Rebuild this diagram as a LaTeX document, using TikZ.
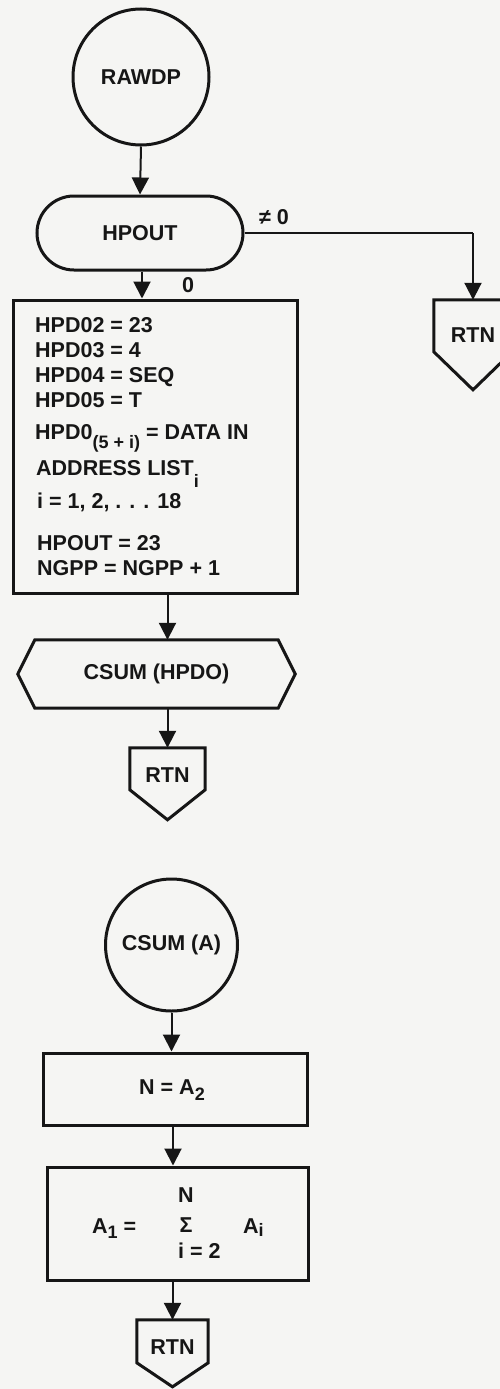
\documentclass[tikz,border=0pt]{standalone}
\usepackage{fontspec}
\setmainfont{Liberation Sans}
\usetikzlibrary{arrows.meta,shapes.misc,calc}
\definecolor{ink}{RGB}{22,22,22}
\definecolor{paper}{RGB}{245,245,243}
% lowered index text, as in HPD0_(5+i) or A_2
\newcommand\lsub[2][0.3em]{\raisebox{-#1}{\fontsize{18}{18}\selectfont #2}}
\tikzset{
  every node/.style={font=\bfseries\fontsize{21.5}{25}\selectfont, text=ink, inner sep=0pt},
  outl/.style={draw=ink, line width=3pt},
  flowline/.style={draw=ink, line width=2pt, -{Triangle[length=17pt,width=17pt]}},
  plainline/.style={draw=ink, line width=2pt},
  linetext/.style={anchor=base west},
  startcircle/.style={outl, circle},
}
% return symbol: rectangle with a downward point
\newcommand\rtnshape[3]{% node, side height, point depth
  \draw[outl, line join=miter] (#1.north west) -- (#1.north east) -- ++(0,#2)
    -- ($(#1.north)+(0,#2+#3)$) -- ($(#1.north west)+(0,#2)$) -- cycle;}
\begin{document}
\begin{tikzpicture}[x=1pt, y=-1pt]
\useasboundingbox[fill=paper] (0,0) rectangle (500,1389);

% ---- RAWDP ----
\node[startcircle, minimum size=136] (rawdp) at (141,77) {RAWDP};
\node[outl, rounded rectangle, minimum width=206, minimum height=74] (hpout) at (140,233) {HPOUT};
\node (ne) at (274,217) {≠ 0};
\node (zero) at (188,285) {0};

\node[minimum width=78, minimum height=70] (rtnR) at (473,335) {RTN};
\rtnshape{rtnR}{52}{38}

\node[outl, minimum width=284, minimum height=293] (box1) at (155,446.5) {};
\node[linetext] (l1) at (35,332) {HPD02 = 23};
\node[linetext] (l2) at (35,357) {HPD03 = 4};
\node[linetext] (l3) at (35,382) {HPD04 = SEQ};
\node[linetext] (l4) at (35,407) {HPD05 = T};
\node[linetext] (l5) at (35,439) {HPD0\lsub[0.45em]{(5 + i)} = DATA IN};
\node[linetext] (l6) at (36,475) {ADDRESS LIST\lsub[0.6em]{i}};
\node[linetext] (l7) at (37,508) {i = 1, 2, . . . 18};
\node[linetext] (l8) at (37,550) {HPOUT = 23};
\node[linetext] (l9) at (37,575) {NGPP = NGPP + 1};

\node[minimum width=277, minimum height=68] (hex) at (156.5,674) {CSUM (HPDO)};
\draw[outl, line join=miter] (hex.west) -- ($(hex.north west)+(17,0)$) -- ($(hex.north east)+(-17,0)$)
  -- (hex.east) -- ($(hex.south east)+(-17,0)$) -- ($(hex.south west)+(17,0)$) -- cycle;

\node[minimum width=75, minimum height=54] (rtn1) at (167.5,775) {RTN};
\rtnshape{rtn1}{42}{30}

\draw[flowline] (rawdp.south) -- (hpout.north);
\draw[flowline] (hpout.south -| 142,0) -- (142,0 |- box1.north);
\draw[plainline] (hpout.east) -- (rtnR.north |- hpout.east);
\draw[flowline] (rtnR.north |- hpout.east) -- (rtnR.north);
\draw[flowline] (rtn1.north |- box1.south) -- (rtn1.north |- hex.north);
\draw[flowline] (rtn1.north |- hex.south) -- (rtn1.north);

% ---- CSUM (A) ----
\node[startcircle, minimum size=132] (csuma) at (171.5,945) {CSUM (A)};
\node[outl, minimum width=264, minimum height=72] (boxn) at (175,1089) {};
\node (ntext) at (172,1090) {N = A\lsub[0.3em]{2}};
\node[outl, minimum width=261, minimum height=113] (boxs) at (177.5,1223.5) {};
\node[linetext] (a1) at (92,1233) {A\lsub[0.25em]{1} =};
\node[anchor=base] (sig) at (186,1232) {Σ};
\node[anchor=base] (upper) at (186,1202) {N};
\node[linetext] (lower) at (178,1258) {i = 2};
\node[linetext] (ai) at (243,1233) {A\lsub[0.15em]{i}};

\node[minimum width=71, minimum height=54] (rtn2) at (172.5,1347) {RTN};
\rtnshape{rtn2}{43}{24}

\draw[flowline] (csuma.south) -- (csuma.south |- boxn.north);
\draw[flowline] (boxn.south -| 173,0) -- (173,0 |- boxs.north);
\draw[flowline] (rtn2.north |- boxs.south) -- (rtn2.north);
\end{tikzpicture}
\end{document}
